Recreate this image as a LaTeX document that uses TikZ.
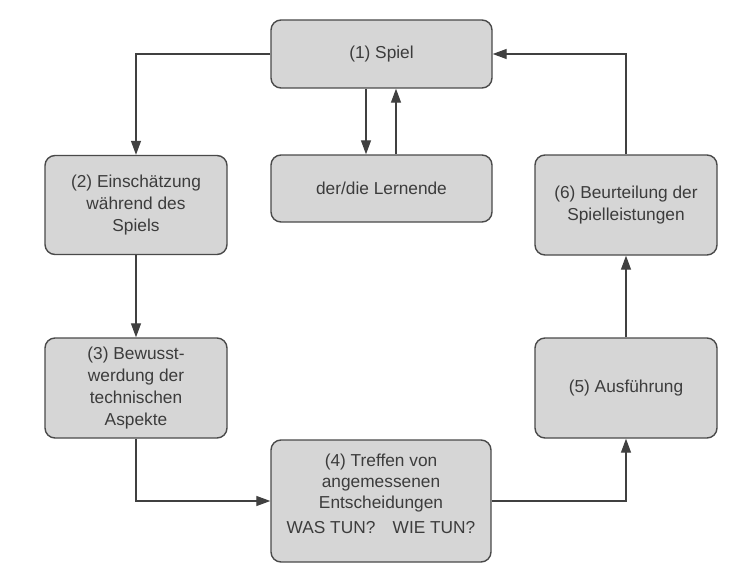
\documentclass[tikz,border=0pt]{standalone}
\usepackage{fontspec}
\setmainfont{Liberation Sans}
\usetikzlibrary{arrows.meta}
\definecolor{boxfill}{HTML}{D6D6D6}
\definecolor{boxline}{HTML}{4A4A4A}
\definecolor{txt}{HTML}{3C3C3C}
\definecolor{conn}{HTML}{404040}
\tikzset{
  stepbox/.style={draw=boxline, line width=1.4pt, fill=boxfill, rounded corners=10pt,
    align=center, text=txt, font=\fontsize{17.3}{22}\selectfont, inner sep=2pt},
  link/.style={draw=conn, line width=1.3pt, -{Triangle[length=14pt,width=10pt]}}
}
\begin{document}
\begin{tikzpicture}[x=1pt,y=-1pt]
\useasboundingbox[fill=white] (0,0) rectangle (736,567);
\node[stepbox, minimum width=221pt, minimum height=68pt] (b1) at (381.5,54) {(1) Spiel};
\node[stepbox, minimum width=221pt, minimum height=67pt] (ln) at (381.5,188.5) {der/die Lernende};
\node[stepbox, minimum width=182pt, minimum height=99pt] (b2) at (136,205) {(2) Einschätzung\\während des\\Spiels};
\node[stepbox, minimum width=182pt, minimum height=100pt] (b3) at (136,388) {(3) Bewusst-\\werdung der\\technischen\\Aspekte};
\node[stepbox, minimum width=220pt, minimum height=122pt, font=\fontsize{17.3}{21}\selectfont] (b4) at (381,501) {(4) Treffen von\\angemessenen\\Entscheidungen\\[4pt]WAS TUN?\quad WIE TUN?\\[-6pt]};
\node[stepbox, minimum width=182pt, minimum height=100pt] (b5) at (626,388) {(5) Ausführung};
\node[stepbox, minimum width=182pt, minimum height=100pt] (b6) at (626,205) {(6) Beurteilung der\\Spielleistungen};

\draw[link] (b1.west) -| (b2.north);
\draw[link] (b2.south) -- (b3.north);
\draw[link] (b3.south) |- (b4.west);
\draw[link] (b4.east) -| (b5.south);
\draw[link] (b5.north) -- (b6.south);
\draw[link] (b6.north) |- (b1.east);
\draw[link] (b1.south -| 366,0) -- (ln.north -| 366,0);
\draw[link] (ln.north -| 396,0) -- (b1.south -| 396,0);
\end{tikzpicture}
\end{document}
